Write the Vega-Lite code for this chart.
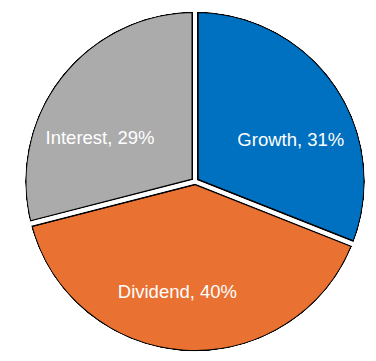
{
  "$schema": "https://vega.github.io/schema/vega-lite/v6.json",
  "width": 376,
  "height": 361,
  "autosize": {"type": "fit", "contains": "padding"},
  "padding": {"left": 14, "right": 0, "top": 2, "bottom": 0},
  "background": "white",
  "view": {"stroke": null},
  "data": {
    "values": [
      {"type": "Growth", "pct": 31, "k": 1, "label": "Growth, 31%"},
      {"type": "Dividend", "pct": 40, "k": 2, "label": "Dividend, 40%"},
      {"type": "Interest", "pct": 29, "k": 3, "label": "Interest, 29%"}
    ]
  },
  "encoding": {
    "theta": {"field": "pct", "type": "quantitative", "stack": true},
    "order": {"field": "k", "type": "quantitative"}
  },
  "layer": [
    {
      "mark": {"type": "arc", "radius": 172, "stroke": "black", "strokeWidth": 7},
      "encoding": {
        "color": {
          "field": "type",
          "type": "nominal",
          "scale": {"domain": ["Growth", "Dividend", "Interest"], "range": ["#0070C0", "#E97132", "#ABABAB"]},
          "legend": null
        }
      }
    },
    {
      "mark": {"type": "arc", "radius": 172, "filled": false, "stroke": "white", "strokeWidth": 4},
      "encoding": {"detail": {"field": "type"}}
    },
    {
      "mark": {"type": "arc", "innerRadius": 170, "outerRadius": 200, "theta": 0, "theta2": 6.2832, "fill": "white", "stroke": null},
      "encoding": {"theta": null, "order": null}
    },
    {
      "mark": {"type": "text", "radius": 105, "fontSize": 18.5, "font": "Liberation Sans", "fill": "white", "align": "center", "baseline": "middle", "dx": 9, "dy": 18},
      "encoding": {
        "detail": {"field": "type"},
        "text": {"condition": {"test": "datum.type === 'Growth'", "field": "label"}, "value": ""}
      }
    },
    {
      "mark": {"type": "text", "radius": 105, "fontSize": 18.5, "font": "Liberation Sans", "fill": "white", "align": "center", "baseline": "middle", "dx": -11, "dy": 6},
      "encoding": {
        "detail": {"field": "type"},
        "text": {"condition": {"test": "datum.type === 'Dividend'", "field": "label"}, "value": ""}
      }
    },
    {
      "mark": {"type": "text", "radius": 105, "fontSize": 18.5, "font": "Liberation Sans", "fill": "white", "align": "center", "baseline": "middle", "dx": -12, "dy": 21},
      "encoding": {
        "detail": {"field": "type"},
        "text": {"condition": {"test": "datum.type === 'Interest'", "field": "label"}, "value": ""}
      }
    }
  ]
}
